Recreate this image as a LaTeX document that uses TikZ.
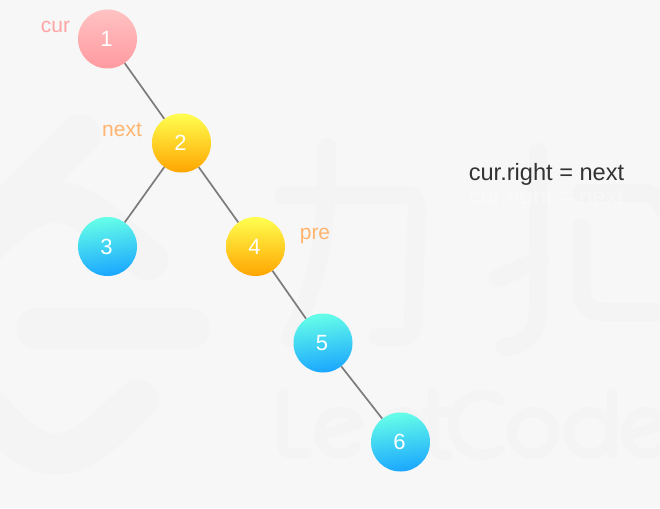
\documentclass[tikz,border=0pt]{standalone}
\usepackage{fontspec}
\setmainfont{Liberation Sans}
\definecolor{bgc}{HTML}{F7F7F7}
\definecolor{wmc}{HTML}{F4F4F4}
\definecolor{edgec}{HTML}{7C7C7C}
\definecolor{pinktop}{HTML}{FFC2C2}
\definecolor{pinkbot}{HTML}{FF9AA0}
\definecolor{yeltop}{HTML}{FFFF50}
\definecolor{yelbot}{HTML}{FFA500}
\definecolor{blutop}{HTML}{66FFE8}
\definecolor{blubot}{HTML}{1AA6FF}
\definecolor{curc}{HTML}{FFA3A3}
\definecolor{nextc}{HTML}{FFB570}
\definecolor{notec}{HTML}{333333}
\newcommand{\treedigit}[1]{\raisebox{-0.5pt}{\kern-2pt #1}}
\tikzset{
  wm/.style={draw=wmc,line cap=round,line join=round},
  wmlogo/.style={wm,line width=41pt},
  wmhan/.style={wm,line width=18pt},
  wmlat/.style={wm,line width=10pt},
  treenode/.style={circle,minimum size=59pt,inner sep=0pt,text=white,font=\fontsize{22}{26}\selectfont},
  pinknode/.style={treenode,top color=pinktop,bottom color=pinkbot},
  yellownode/.style={treenode,top color=yeltop,bottom color=yelbot},
  bluenode/.style={treenode,top color=blutop,bottom color=blubot,shading angle=8},
  edgeline/.style={draw=edgec,line width=1.7pt},
  ptrlabel/.style={font=\fontsize{21}{25}\selectfont,inner sep=0pt},
  notetext/.style={font=\fontsize{23.6}{28}\selectfont,inner sep=0pt}
}
\begin{document}
\begin{tikzpicture}[x=1pt,y=-1pt]
\useasboundingbox (0,0) rectangle (660,508);
\fill[bgc] (0,0) rectangle (660,508);
\begin{scope}
\clip (0,0) rectangle (660,508);
% watermark: logo
\draw[wmlogo] (80,135) -- (-10,225);
\draw[wmlogo] (-15,245) .. controls (15,215) and (35,202) .. (55,202) .. controls (85,202) and (110,232) .. (147,260);
\draw[wmlogo] (37,328) -- (189,328);
\draw[wmlogo] (-25,395) .. controls (5,425) and (25,454) .. (55,454) .. controls (85,454) and (105,430) .. (138,400);
% watermark: han characters
\draw[wmhan] (283,195) -- (405,195) .. controls (413,195) and (417,199) .. (417,207) -- (413,322) .. controls (413,332) and (408,337) .. (398,337) -- (378,337);
\draw[wmhan] (327,147) -- (326,195) .. controls (325,250) and (310,300) .. (290,338);
\draw[wmhan] (538,152) -- (538,310) .. controls (538,335) and (525,345) .. (505,347);
\draw[wmhan] (498,278) -- (540,260);
\draw[wmhan] (582,227) -- (582,290) .. controls (582,306) and (590,312) .. (605,312) -- (665,312);
\draw[wmhan] (582,193) -- (640,193) .. controls (652,193) and (660,200) .. (668,215);
% watermark: latin word
\draw[wmlat] (283,393) -- (283,445) .. controls (283,451) and (285,453) .. (291,453) -- (307,453);
\draw[wmlat,shift={(340,433)},x=1pt,y=1pt] (-20,-3) -- (27:21) arc[start angle=27,end angle=320,radius=21];
\draw[wmlat,shift={(403,433)},x=1pt,y=1pt] (-20,-3) -- (27:21) arc[start angle=27,end angle=320,radius=21];
\draw[wmlat] (433,393) -- (433,445) .. controls (433,451) and (440,455) .. (448,455);
\draw[wmlat] (427,412) -- (450,412);
\draw[wmlat,shift={(483,425)},x=1pt,y=1pt] (55:30) arc[start angle=55,end angle=305,radius=30];
\draw[wmlat] (533,433) circle[radius=21];
\draw[wmlat] (590,433) circle[radius=21];
\draw[wmlat] (612,393) -- (612,453);
\draw[wmlat,shift={(647,433)},x=1pt,y=1pt] (-20,-3) -- (27:21) arc[start angle=27,end angle=320,radius=21];
\end{scope}
% tree
\node[pinknode]   (n1) at (107.5,39)  {\treedigit{1}};
\node[yellownode] (n2) at (181.5,143) {\treedigit{2}};
\node[bluenode]   (n3) at (107.5,246.5) {\treedigit{3}};
\node[yellownode] (n4) at (255.5,246.5) {\treedigit{4}};
\node[bluenode]   (n5) at (323,343) {\treedigit{5}};
\node[bluenode]   (n6) at (400.5,442) {\treedigit{6}};
\draw[edgeline] (n1) -- (n2);
\draw[edgeline] (n2) -- (n3);
\draw[edgeline] (n2) -- (n4);
\draw[edgeline] (n4) -- (n5);
\draw[edgeline] (n5) -- (n6);
% labels
\node[ptrlabel,text=curc]  (lcur)  at (55.5,27)  {cur};
\node[ptrlabel,text=nextc] (lnext) at (122,130) {next};
\node[ptrlabel,text=nextc] (lpre)  at (315,236.5) {pre};
\node[notetext,text=white,opacity=.35] (ghost) at (546.5,198) {cur.right = next};
\node[notetext,text=notec] (note) at (546.5,174) {cur.right = next};
\end{tikzpicture}
\end{document}
